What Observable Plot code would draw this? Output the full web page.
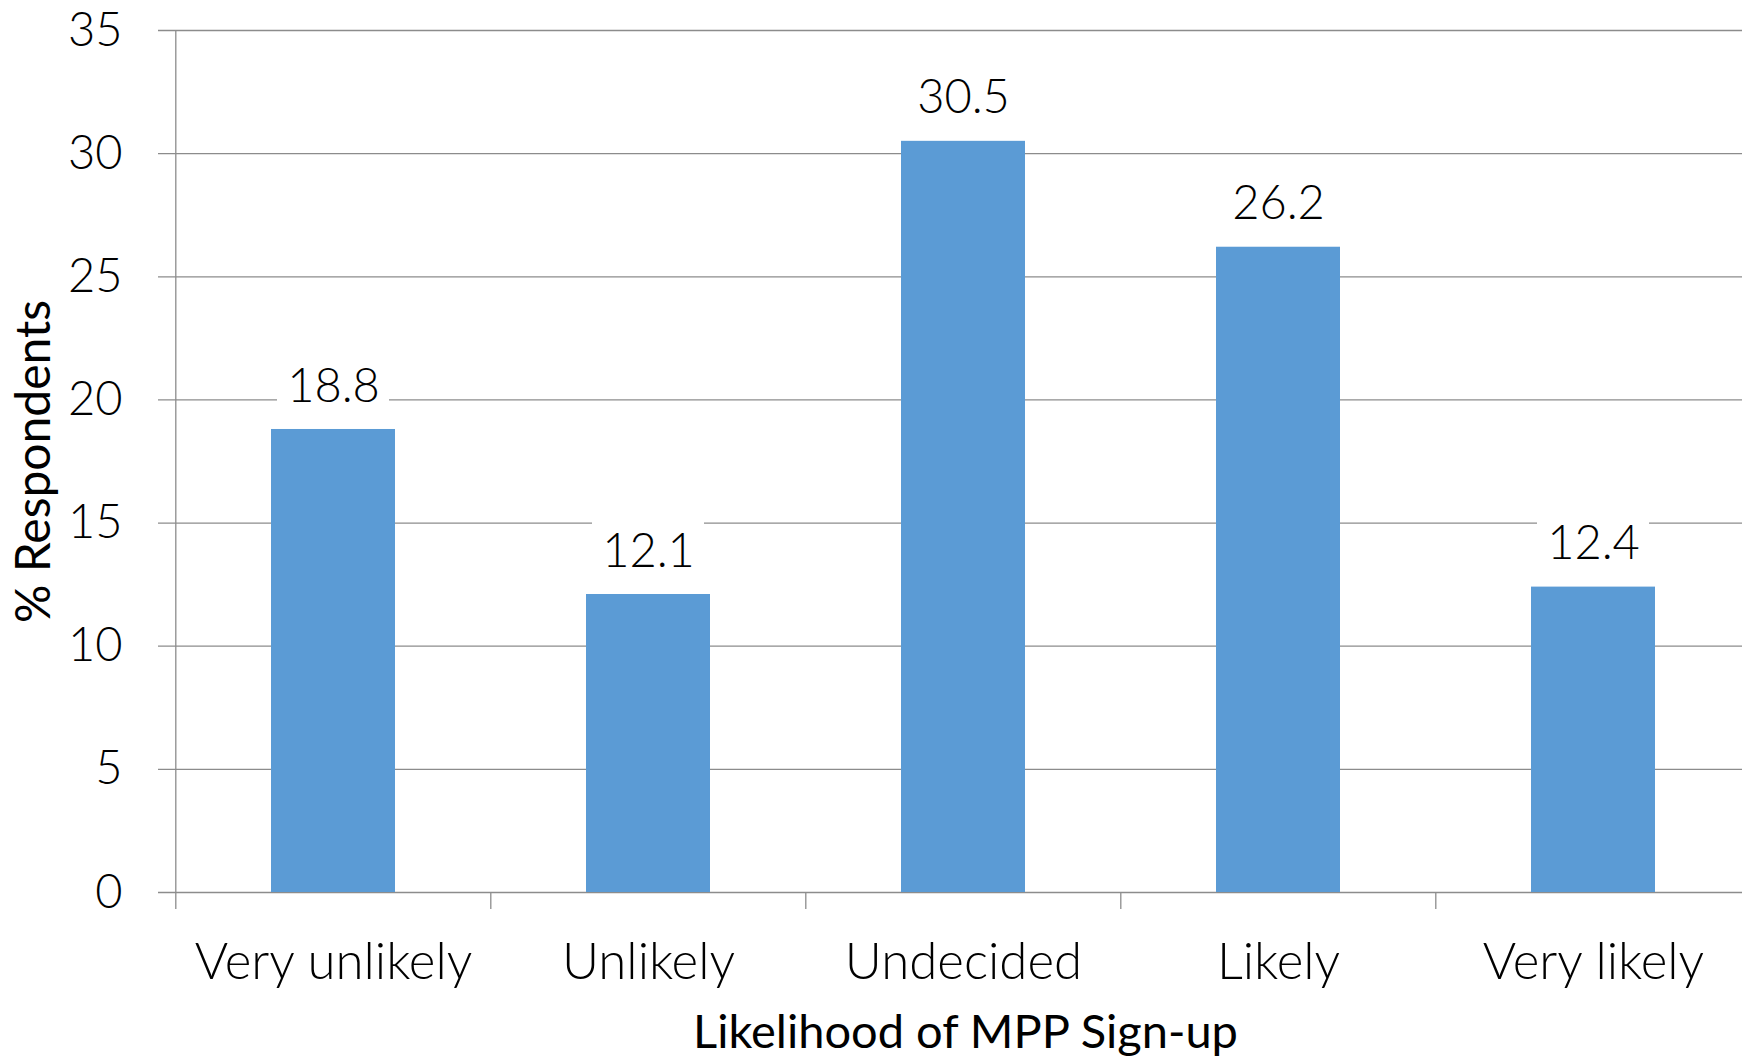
<!DOCTYPE html>
<html>
<head>
<meta charset="utf-8">
<script src="https://cdn.jsdelivr.net/npm/d3@7"></script>
<script src="https://cdn.jsdelivr.net/npm/@observablehq/plot@0.6"></script>
<style>
  html, body { margin: 0; padding: 0; background: #ffffff; }
  #chart svg { display: block; }
</style>
</head>
<body>
<div id="chart"></div>
<script>
// Survey responses: likelihood of signing up for the MPP
const categories = ["Very unlikely", "Unlikely", "Undecided", "Likely", "Very likely"];
const values = [18.8, 12.1, 30.5, 26.2, 12.4];
const yTicks = [0, 5, 10, 15, 20, 25, 30, 35];
const xTitle = "Likelihood of MPP Sign-up";
const yTitle = "% Respondents";

const data = categories.map((category, i) => ({category, value: values[i]}));

// Horizontal layout of the category bands
const bandStart = 175;
const bandEnd = 1752;
const step = (bandEnd - bandStart) / categories.length;

const gridColor = "#8c8c8c";
const barColor = "#5B9BD5";

const chart = Plot.plot({
  width: 1742,
  height: 1060,
  marginLeft: 158,
  marginRight: 0,
  marginTop: 30,
  marginBottom: 168,
  style: {
    fontFamily: "Lato, 'Open Sans', sans-serif",
    fontWeight: 300,
    fontSize: "47px",
    color: "#000000",
    background: "#ffffff"
  },
  x: {
    domain: categories,
    range: [bandStart, bandEnd],
    paddingInner: 0.606,
    paddingOuter: 0.303
  },
  y: {domain: [0, 35], ticks: yTicks},
  marks: [
    // horizontal gridlines (also serve as y tick marks)
    Plot.ruleY(yTicks, {stroke: gridColor, strokeWidth: 1.3}),
    // vertical value axis line at the first band boundary
    Plot.ruleX(categories.slice(0, 1), {
      x: d => d, dx: -step / 2, stroke: gridColor, strokeWidth: 1.3, insetBottom: -17
    }),
    // category boundary tick marks below the baseline
    Plot.ruleX(categories.slice(1), {
      x: d => d, dx: -step / 2, stroke: gridColor, strokeWidth: 1.3,
      insetTop: 862, insetBottom: -17
    }),
    // white boxes behind the value labels
    Plot.barY(data, {
      x: "category", y1: "value", y2: "value",
      fill: "#ffffff", insetTop: -74, insetBottom: 14, insetLeft: 6, insetRight: 6
    }),
    Plot.barY(data, {x: "category", y: "value", fill: barColor}),
    Plot.text(data, {
      x: "category", y: "value", text: d => d.value.toFixed(1),
      dy: -43, fill: "#000000"
    }),
    Plot.axisY({ticks: yTicks, tickSize: 0, tickPadding: 36, label: null}),
    Plot.axisX({tickSize: 0, tickPadding: 50, fontSize: 51, label: null}),
    Plot.text([yTitle], {
      frameAnchor: "left", textAnchor: "middle", dx: -124, rotate: -90,
      fontSize: 48, fontWeight: 400, fill: "#000000"
    }),
    Plot.text([xTitle], {
      frameAnchor: "bottom", dx: 15, dy: 155, fontSize: 47, fontWeight: 400, fill: "#000000"
    })
  ]
});

document.getElementById("chart").appendChild(chart);
</script>
</body>
</html>
